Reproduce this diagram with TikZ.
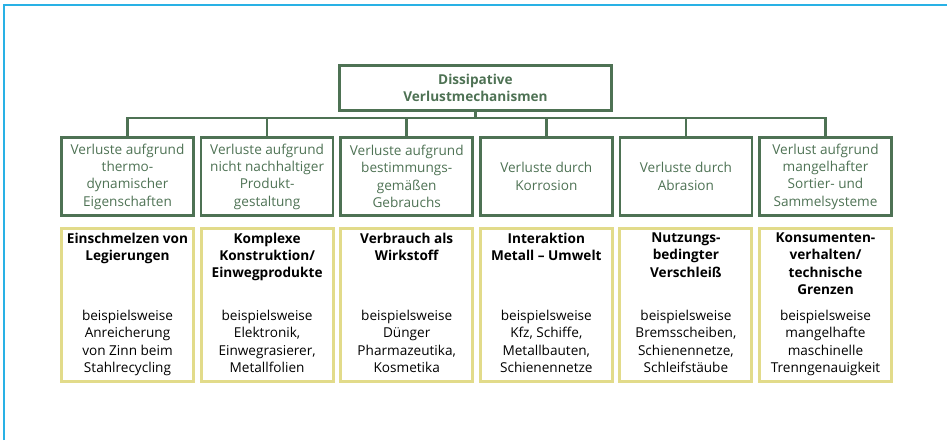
\documentclass[tikz,border=0pt]{standalone}
\usepackage{fontspec}
\setmainfont{Open Sans}
\usetikzlibrary{positioning}
\definecolor{lossGreen}{RGB}{78,114,84}
\definecolor{causeYellow}{RGB}{226,219,138}
\definecolor{frameBlue}{RGB}{41,177,229}
\newcommand{\columnFont}{\fontsize{13.6}{17.3}\selectfont}

\begin{document}
\begin{tikzpicture}[x=1pt,y=-1pt,%%
  frameStyle/.style={line width=1.6pt,frameBlue},%%
  lineStyle/.style={line width=2.6pt,lossGreen},%%
  rootStyle/.style={draw=lossGreen,line width=2.6pt,minimum width=272pt,minimum height=45pt,%%
    text=lossGreen,font=\columnFont\bfseries,align=center,inner sep=0pt},%%
  categoryStyle/.style={draw=lossGreen,line width=2.6pt,minimum width=132pt,minimum height=78pt,%%
    text=lossGreen,font=\columnFont,align=center,inner sep=0pt},%%
  causeStyle/.style={draw=causeYellow,line width=3pt,minimum width=132pt,minimum height=153pt,inner sep=0pt},%%
  headStyle/.style={anchor=north,font=\columnFont\bfseries,align=center,inner sep=0pt},%%
  exampleStyle/.style={anchor=north,font=\columnFont,align=center,inner sep=0pt}%%
]
%%
%%
\pgfmathsetmacro{\pitch}{139.6}
\pgfmathsetmacro{\xfirst}{127.5}
\useasboundingbox (0,0) rectangle (947,440);
%% The frame round the figure.
\coordinate (frameCorner) at (4,5);
\draw[frameStyle] (4,440) -- (frameCorner) -- (947,5);
%% The root of the tree.
\node[rootStyle] (root) at (475.5,88) {Dissipative\\Verlustmechanismen};
\draw[lineStyle] (root.south) -- ([yshift=-6pt]root.south) coordinate (bus);
%% The six columns.
\foreach \i/\category/\head/\example in {%%
  1/{Verluste aufgrund\\thermo-\\dynamischer\\Eigenschaften}/{Einschmelzen von\\Legierungen}/{beispielsweise\\Anreicherung\\von Zinn beim\\Stahlrecycling},%%
  2/{Verluste aufgrund\\nicht nachhaltiger\\Produkt-\\gestaltung}/{Komplexe\\Konstruktion/\\Einwegprodukte}/{beispielsweise\\Elektronik,\\Einwegrasierer,\\Metallfolien},%%
  3/{Verluste aufgrund\\bestimmungs-\\gemäßen\\Gebrauchs}/{Verbrauch als\\Wirkstoff}/{beispielsweise\\Dünger\\Pharmazeutika,\\Kosmetika},%%
  4/{Verluste durch\\Korrosion}/{Interaktion\\Metall – Umwelt}/{beispielsweise\\Kfz, Schiffe,\\Metallbauten,\\Schienennetze},%%
  5/{Verluste durch\\Abrasion}/{Nutzungs-\\bedingter\\Verschleiß}/{beispielsweise\\Bremsscheiben,\\Schienennetze,\\Schleifstäube},%%
  6/{Verlust aufgrund\\mangelhafter\\Sortier- und\\Sammelsysteme}/{Konsumenten-\\verhalten/\\technische\\Grenzen}/{beispielsweise\\mangelhafte\\maschinelle\\Trenngenauigkeit}%%
}{%%
  \node[categoryStyle] (cat\i) at ({\xfirst+(\i-1)*\pitch},176.5) {\category};
  \draw[lineStyle] (cat\i.north) |- (bus);
  \node[causeStyle] (cause\i) at ({\xfirst+(\i-1)*\pitch},305) {};
  \node[headStyle] (head\i) at ([yshift=-5.5pt]cause\i.north) {\head};
  \node[exampleStyle] (example\i) at ([yshift=-83pt]cause\i.north) {\example};
}
\end{tikzpicture}
\end{document}
